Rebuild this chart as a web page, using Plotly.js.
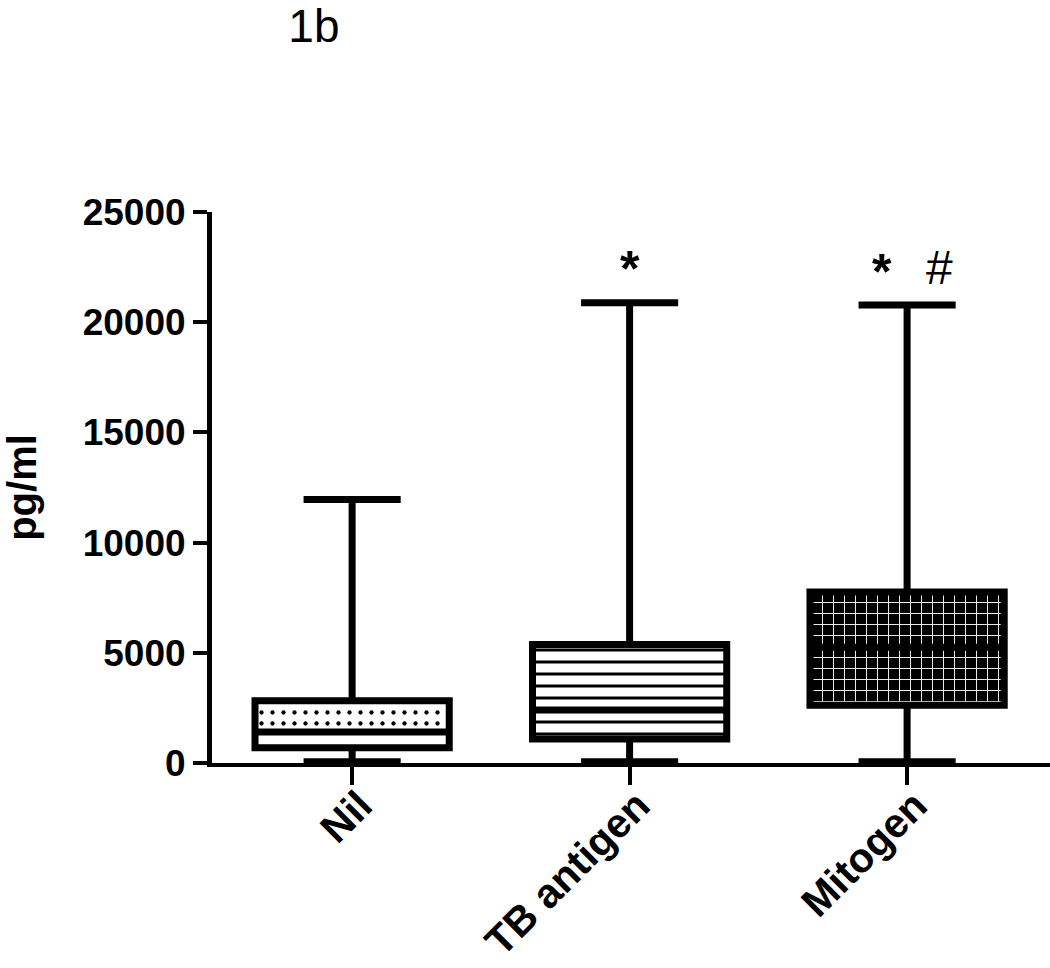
<!DOCTYPE html>
<html>
<head>
<meta charset="utf-8">
<script src="https://cdn.plot.ly/plotly-3.0.1.min.js"></script>
<style>
  body { margin: 0; background: #fff; }
  #chart { width: 1050px; height: 968px; }
</style>
</head>
<body>
<div id="chart"></div>
<script>
// values (pg/ml)
const categories = ['Nil', 'TB antigen', 'Mitogen'];
const minVals = [60, 60, 60];
const q1Vals = [690, 1090, 2620];
const medianVals = [1410, 2400, 5250];
const q3Vals = [2830, 5380, 7760];
const maxVals = [11960, 20880, 20780];

const yTicks = [0, 5000, 10000, 15000, 20000, 25000];

// significance marks above the whiskers
const markTexts = ['*', '*', '#'];
const markX = [1, 1.91, 2.115];
const markY = [22400, 22300, 22500];

const fontFamily = 'Liberation Sans, Arial, sans-serif';

// pattern fill for each box: Nil only above the median
const patternBase = [medianVals[0], q1Vals[1], q1Vals[2]];
const patternHeight = [q3Vals[0] - medianVals[0], q3Vals[1] - q1Vals[1], q3Vals[2] - q1Vals[2]];

const patternTrace = {
    type: 'bar',
    x: categories,
    base: patternBase,
    y: patternHeight,
    width: 0.7,
    hoverinfo: 'skip',
    showlegend: false,
    marker: {
        color: 'rgba(0,0,0,0)',
        line: { width: 0 },
        pattern: {
            shape: ['.', '-', '+'],
            fgcolor: ['#000000', '#000000', '#ffffff'],
            bgcolor: ['#ffffff', '#ffffff', '#000000'],
            size: [11, 12, 11],
            solidity: [0.12, 0.25, 0.16],
            fgopacity: 1,
        },
    },
};

const boxTrace = {
    type: 'box',
    x: categories,
    q1: q1Vals,
    median: medianVals,
    q3: q3Vals,
    lowerfence: minVals,
    upperfence: maxVals,
    width: 0.7,
    whiskerwidth: 0.5,
    fillcolor: 'rgba(0,0,0,0)',
    line: { color: '#000000', width: 7 },
    hoverinfo: 'skip',
    showlegend: false,
};

const annotations = markTexts.map((t, i) => ({
    x: markX[i],
    y: markY[i],
    xref: 'x',
    yref: 'y',
    text: t,
    showarrow: false,
    font: {
        family: fontFamily,
        size: t === '#' ? 48 : 50,
        weight: t === '#' ? 'normal' : 'bold',
        color: '#000000',
    },
}));

const layout = {
    width: 1050,
    height: 968,
    paper_bgcolor: '#ffffff',
    plot_bgcolor: '#ffffff',
    margin: { l: 212, r: 0, t: 212, b: 205 },
    barmode: 'overlay',
    showlegend: false,
    title: {
        text: '1b',
        font: { family: fontFamily, size: 46, color: '#000000' },
        xref: 'container',
        yref: 'container',
        x: 0.299,
        xanchor: 'center',
        y: 0.99,
        yanchor: 'top',
    },
    xaxis: {
        type: 'category',
        range: [-0.505, 2.515],
        showline: true,
        linecolor: '#000000',
        linewidth: 4,
        ticks: 'outside',
        ticklen: 18,
        tickwidth: 4,
        tickcolor: '#000000',
        tickangle: -45,
        ticklabelstandoff: -20,
        ticklabelshift: 8,
        tickfont: { family: fontFamily, size: 41, weight: 'bold', color: '#000000' },
        showgrid: false,
        zeroline: false,
        fixedrange: true,
    },
    yaxis: {
        range: [0, 25000],
        tickvals: yTicks,
        ticktext: yTicks.map(String),
        showline: true,
        linecolor: '#000000',
        linewidth: 5,
        ticks: 'outside',
        ticklen: 14,
        tickwidth: 4,
        tickcolor: '#000000',
        tickfont: { family: fontFamily, size: 37, weight: 'bold', color: '#000000' },
        showgrid: false,
        zeroline: false,
        fixedrange: true,
        title: {
            text: 'pg/ml',
            font: { family: fontFamily, size: 40, weight: 'bold', color: '#000000' },
            standoff: 36,
        },
    },
    annotations: annotations,
};

const config = {
    staticPlot: true,
    displayModeBar: false,
};

Plotly.newPlot('chart', [patternTrace, boxTrace], layout, config);
</script>
</body>
</html>
